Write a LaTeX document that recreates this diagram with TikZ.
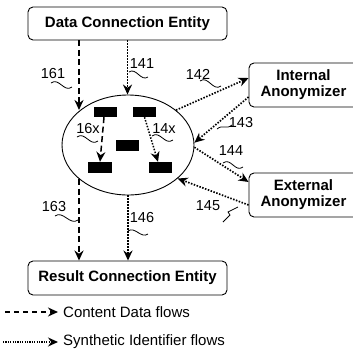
\documentclass[tikz,border=0pt]{standalone}
\usepackage{fontspec}
\setmainfont{Liberation Sans}
\usetikzlibrary{arrows.meta,shapes.geometric}
\begin{document}
\begin{tikzpicture}[x=1pt,y=-1pt,
  box/.style={draw, line width=0.9pt, rounded corners=5pt, font=\fontsize{15}{16}\selectfont\bfseries, inner sep=0pt, align=center},
  lbl/.style={font=\fontsize{14.5}{15}\selectfont, inner sep=0pt},
  legtext/.style={font=\fontsize{15}{16}\selectfont, inner sep=0pt, anchor=west},
  cdflow/.style={line width=1.8pt, dash pattern=on 6pt off 3.5pt, -{Stealth[length=10pt,width=9pt]}},
  siflow/.style={line width=1.7pt, dash pattern=on 1.5pt off 1.5pt, -{Stealth[length=10pt,width=9pt]}},
  sq/.style={line width=0.8pt},
  blk/.style={fill=black, inner sep=0pt}
]
\useasboundingbox (0,0) rectangle (353,362);
\clip (0,0) rectangle (353,362);

% boxes
\node[box, minimum width=199pt, minimum height=33pt] (dce) at (127.5,23.5) {Data Connection Entity};
\node[box, minimum width=199pt, minimum height=34pt] (rce) at (127.5,278) {Result Connection Entity};
\node[box, minimum width=109pt, minimum height=44pt] (ia) at (303.5,85) {Internal\\Anonymizer};
\node[box, minimum width=109pt, minimum height=44pt] (ea) at (303.5,195) {External\\Anonymizer};

% ellipse
\node[draw, ellipse, line width=0.9pt, minimum width=132pt, minimum height=100pt, inner sep=0pt] (ell) at (128,145) {};

% black blocks
\node[blk, minimum width=23pt, minimum height=10pt] (r1) at (105.5,112) {};
\node[blk, minimum width=23pt, minimum height=10pt] (r2) at (144.5,112) {};
\node[blk, minimum width=23pt, minimum height=11pt] (r3) at (127.5,145) {};
\node[blk, minimum width=24pt, minimum height=11pt] (r4) at (100,167.5) {};
\node[blk, minimum width=23pt, minimum height=11pt] (r5) at (160.5,167.5) {};

\draw[cdflow, line width=1.5pt] ([xshift=-1.5pt]r1.south) -- (r4.north);
\draw[siflow, line width=1.5pt] (r2.south) -- ([xshift=-2.5pt]r5.north);

% connectors
\coordinate (t161) at (79,110);
\coordinate (s163) at (79,179);
\draw[cdflow] (dce.south -| t161) -- (t161);
\draw[siflow] (dce.south) -- (dce.south |- ell.north);
\draw[cdflow] (s163) -- (s163 |- rce.north);
\draw[siflow] (ell.south) -- (ell.south |- rce.north);
\draw[siflow] (ell.36.7) -- ([yshift=7pt]ia.west);
\draw[siflow] ([yshift=-12pt]ia.west) -- (ell.2);
\draw[siflow] (ell.-2) -- ([yshift=13pt]ea.west);
\draw[siflow] ([yshift=-10pt]ea.west) -- (ell.-34);

% labels
\node[lbl] (l161) at (53,74) {161};
\node[lbl] (l141) at (142,64) {141};
\node[lbl] (l163) at (54,207) {163};
\node[lbl] (l146) at (142,218) {146};
\node[lbl] (l142) at (198,74) {142};
\node[lbl] (l143) at (241,123) {143};
\node[lbl] (l144) at (231,151) {144};
\node[lbl] (l145) at (208,206) {145};
\node[lbl] (l16x) at (88,129) {16x};
\node[lbl] (l14x) at (164,129) {14x};

% squiggles
\draw[sq] (51,83) .. controls +(8,-6) and +(-8,6) .. (72,87);
\draw[sq] (129,72) .. controls +(7,-5) and +(-7,5) .. (148,77);
\draw[sq] (55,216) .. controls +(8,-6) and +(-8,6) .. (78,220);
\draw[sq] (128,231) .. controls +(7,-5) and +(-7,5) .. (148,234);
\draw[sq] (200,81) .. controls +(8,-6) and +(-8,6) .. (221,86);
\draw[sq] (217,129) .. controls +(6,-5) and +(-6,5) .. (232,125);
\draw[sq] (223,163) .. controls +(8,-6) and +(-8,6) .. (243,167);
\draw[sq] (223,222) -- (230,215) -- (228,212) -- (238,207);
\draw[sq] (77,137) .. controls +(8,-6) and +(-8,6) .. (98,141);
\draw[sq] (152,136) .. controls +(8,-6) and +(-8,6) .. (173,140);

% legend
\node[legtext] (lg1) at (63,312) {Content Data flows};
\node[legtext] (lg2) at (63,342) {Synthetic Identifier flows};
\coordinate (lg1s) at (5,312);
\coordinate (lg2s) at (3,342);
\draw[cdflow, line width=1.5pt, dash pattern=on 5pt off 4pt] (lg1s) -- ([xshift=-5pt]lg1.west);
\draw[siflow, line width=1.3pt, dash pattern=on 1.2pt off 1.2pt] (lg2s) -- ([xshift=-5pt]lg2.west);
\end{tikzpicture}
\end{document}
